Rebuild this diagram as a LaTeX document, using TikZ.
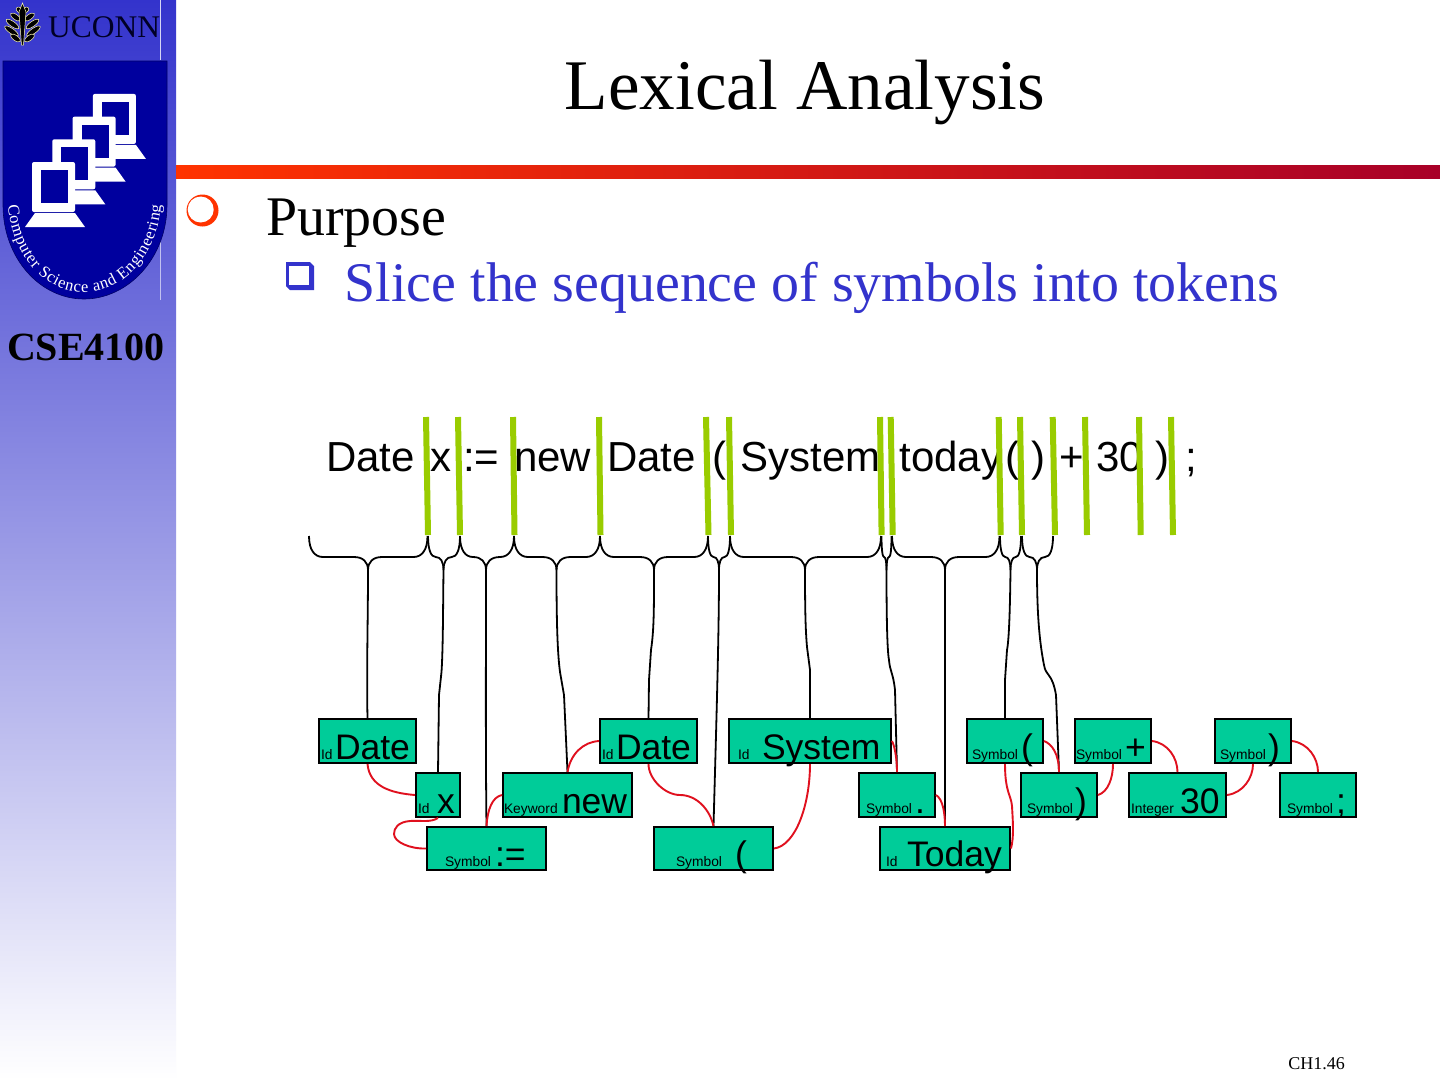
\documentclass[tikz,border=0pt]{standalone}
\usepackage{fontspec}
\setmainfont{Liberation Serif}
\setsansfont{Liberation Sans}
\usetikzlibrary{decorations.text}

\definecolor{tokengreen}{HTML}{00CC99}
\definecolor{cutgreen}{HTML}{99CC00}
\definecolor{slideblue}{HTML}{3333CC}
\definecolor{shieldblue}{HTML}{00009E}
\definecolor{linkred}{HTML}{E0101E}
\definecolor{ruleorange}{HTML}{FF3300}
\definecolor{rulecrimson}{HTML}{A80028}

% token text: offset, small label, offset to the big word, big word
\newcommand{\toktext}[4]{\hspace*{#1pt}\rlap{\fontsize{13.8}{14}\selectfont #2}\hspace*{#3pt}{\fontsize{35.5}{36}\selectfont #4}}

\begin{document}
\begin{tikzpicture}[
  x=1pt, y=-1pt,
  tokenbox/.style={rectangle, draw=black, line width=2pt, fill=tokengreen, inner sep=0pt, minimum height=#1, text height=#1-3.5pt, text depth=3.5pt, align=left, font=\sffamily},
  tokenbox/.default=44pt,
  cut/.style={line width=6pt, cutgreen},
  bracket/.style={line width=1.8pt, black},
  wire/.style={line width=1.8pt, black},
  link/.style={line width=1.9pt, linkred},
  title/.style={font=\fontsize{71.2}{72}\selectfont},
  bullettext/.style={anchor=base west, font=\fontsize{55.9}{56}\selectfont}
]
  \useasboundingbox (0,0) rectangle (1440,1080);
  \fill[white] (0,0) rectangle (1440,1080);

  % side bar and rule
  \shade[top color=slideblue, bottom color=white] (0,0) rectangle (176,1080);
  \shade[left color=ruleorange, right color=rulecrimson] (176,165) rectangle (1440,178);

  % logo
  \draw[white!80!slideblue, line width=0.8pt] (160,0) -- (160,60);
  \draw[white!70!slideblue, line width=0.8pt] (160,62) -- (160,300);
  \foreach \ly/\lr in {10/3, 17/7, 24/10, 31/11, 38/7} {
    \fill[black, draw=white!70!yellow, line width=0.5pt, rotate around={35:(22.5+\lr,\ly)}] (22.5+\lr,\ly) ellipse (\lr*0.55+2 and 2.6);
    \fill[black, draw=white!70!yellow, line width=0.5pt, rotate around={-35:(22.5-\lr,\ly)}] (22.5-\lr,\ly) ellipse (\lr*0.55+2 and 2.6);
  }
  \fill[black, draw=white!70!yellow, line width=0.5pt] (22.5,3) -- (26,12) -- (23.5,45) -- (21.5,45) -- (19,12) -- cycle;
  \node[anchor=base west, inner sep=0pt, text=black!85!blue, font=\fontsize{31.5}{32}\selectfont] (uconn) at (48,37) {UCONN};
  \fill[shieldblue, draw=black!60!blue, line width=0.6pt] (3,61) -- (167,61) -- (167,205) .. controls (167,258) and (128,299) .. (84,299) .. controls (40,299) and (3,258) .. (3,205) -- cycle;
  \foreach \i in {3,2,1,0} {
    \begin{scope}[shift={(20.3*\i,-22.7*\i)}]
      \fill[white] (25,227) -- (35,213) -- (75,213) -- (85,227) -- cycle;
      \fill[white, rounded corners=2pt] (32,162) rectangle (75,212);
      \fill[shieldblue] (41,170) rectangle (68,203);
    \end{scope}
  }
  \path[decorate, decoration={text along path, text align=fit to path, text color=white, text={|\fontsize{16.5}{17}\selectfont|Computer Science and Engineering}}]
    (8,205) .. controls (12,257) and (45,292) .. (84,292) .. controls (123,292) and (157,257) .. (161,205);
  \node[anchor=base, inner sep=0pt, font=\fontsize{40}{40}\selectfont\bfseries] (course) at (86,360) {CSE4100};

  % title and bullets
  \node[title, anchor=base, inner sep=0pt] (heading) at (805,109) {Lexical Analysis};
  \fill[ruleorange] (202.5,210.5) circle (16);
  \fill[white] (200.7,209.5) circle (13);
  \fill[slideblue] (286,262) -- (310,262) -- (314,266) -- (314,290) -- (290,290) -- (286,286) -- cycle;
  \fill[white] (289,266) rectangle (309,285);
  \node[bullettext, inner sep=0pt] (purpose) at (266,235.5) {Purpose};
  \node[bullettext, inner sep=0pt, text=slideblue] (slice) at (344.5,301) {Slice the sequence of symbols into tokens};

  % the source line
  \node[anchor=base west, inner sep=0pt, font=\sffamily\fontsize{42}{42}\selectfont] (source) at (326,471.5) {Date \kern3.7pt x \kern.3pt := \kern3.2pt new \kern4.3pt Date \kern4.7pt ( \kern2.3pt System \kern7.3pt today\kern3.3pt( \kern.3pt) \kern2.3pt+ \kern.7pt30 \kern.6pt) \kern4.3pt;};

  % cuts
  \foreach \t/\b in {426/428, 458/460, 513/514.5, 599/600.5, 706/708.5, 729/731, 880/881.6, 890.7/892.7, 998.7/1000.7, 1020/1022, 1052.7/1055, 1085/1087, 1139/1140.7, 1171/1173}
    \draw[cut] (\t,417) -- (\b,535);

  % braces under the cuts
  \foreach \l/\m/\r in {309/368/427.5, 428/443.5/460, 460/486/514, 514/556.5/600, 600/654/708, 708/719/730, 730/805/881, 881.5/886.5/891.5, 892/945/999.5, 1000/1010.5/1021, 1022/1037/1053} {
    \pgfmathsetmacro{\ra}{min(14,(\m-\l)/2)}
    \pgfmathsetmacro{\rb}{min(14,(\r-\m)/2)}
    \draw[bracket] (\l,536) .. controls (\l,550) and (\l+\ra*0.4,557) .. (\l+\ra,557) -- (\m-\ra,557) .. controls (\m-\ra*0.35,557) and (\m,562) .. (\m,570);
    \draw[bracket] (\r,536) .. controls (\r,550) and (\r-\rb*0.4,557) .. (\r-\rb,557) -- (\m+\rb,557) .. controls (\m+\rb*0.35,557) and (\m,562) .. (\m,570);
  }
  \coordinate (b1) at (368,570);
  \coordinate (b2) at (443.5,570);
  \coordinate (b3) at (486,570);
  \coordinate (b4) at (556.5,570);
  \coordinate (b5) at (654,570);
  \coordinate (b6) at (719,570);
  \coordinate (b7) at (805,570);
  \coordinate (b8) at (886.5,570);
  \coordinate (b9) at (945,570);
  \coordinate (b10) at (1010.5,570);
  \coordinate (b11) at (1037,570);

  % tokens
  \node[tokenbox, minimum width=97pt, text width=97pt] (date) at (367.5,741) {\toktext{2}{Id}{14}{Date}};
  \node[tokenbox, minimum width=44pt, text width=44pt] (x) at (438,795) {\toktext{2}{Id}{19}{x}};
  \node[tokenbox=43pt, minimum width=119pt, text width=119pt] (assign) at (486.5,848.5) {\toktext{18}{Symbol}{50}{:=}};
  \node[tokenbox, minimum width=129pt, text width=129pt] (new) at (567.5,795) {\toktext{1}{Keyword}{58}{new}};
  \node[tokenbox, minimum width=97pt, text width=97pt] (datetwo) at (648.5,741) {\toktext{2}{Id}{14}{Date}};
  \node[tokenbox=43pt, minimum width=119pt, text width=119pt] (lparen) at (713.5,848.5) {\toktext{22}{Symbol}{59}{(}};
  \node[tokenbox, minimum width=162pt, text width=162pt] (system) at (810,741) {\toktext{9}{Id}{24}{System}};
  \node[tokenbox, minimum width=76pt, text width=76pt] (dot) at (897,795) {\toktext{7}{Symbol}{49}{.}};
  \node[tokenbox=43pt, minimum width=130pt, text width=130pt] (today) at (945,848.5) {\toktext{6}{Id}{21}{Today}};
  \node[tokenbox, minimum width=76pt, text width=76pt] (open) at (1005,741) {\toktext{5}{Symbol}{49}{(}};
  \node[tokenbox, minimum width=76pt, text width=76pt] (close) at (1059,795) {\toktext{6}{Symbol}{48}{)}};
  \node[tokenbox, minimum width=76pt, text width=76pt] (plus) at (1113,741) {\toktext{1}{Symbol}{49}{+}};
  \node[tokenbox, minimum width=97pt, text width=97pt] (thirty) at (1177.5,795) {\toktext{2}{Integer}{49}{30}};
  \node[tokenbox, minimum width=76pt, text width=76pt] (rparen) at (1253,741) {\toktext{5}{Symbol}{48}{)}};
  \node[tokenbox, minimum width=76pt, text width=76pt] (semi) at (1318,795) {\toktext{7}{Symbol}{49}{;}};

  % wires from the braces to the tokens
  \draw[wire] (b1) .. controls (368,620) and (366.5,670) .. (date.north);
  \draw[wire] (b2) .. controls (443,610) and (443,650) .. (441.5,672) -- (439,695) -- (x.north);
  \draw[wire] (b3) .. controls (486,650) and (485.5,750) .. (assign.north);
  \draw[wire] (b4) .. controls (556.5,610) and (557,650) .. (560,672) -- (564,695) -- (new.north);
  \draw[wire] (b5) .. controls (654,610) and (654,630) .. (651,650) -- (649,680) -- (datetwo.north);
  \draw[wire] (b6) .. controls (719,630) and (717,700) .. (lparen.north);
  \draw[wire] (b7) .. controls (805,610) and (805.5,630) .. (807,647) -- (810,670) -- (system.north);
  \draw[wire] (b8) .. controls (886.5,610) and (887,650) .. (889,660) .. controls (890,672) and (893,672) .. (895,690) -- (dot.north);
  \draw[wire] (b9) .. controls (945,650) and (945,750) .. (today.north);
  \draw[wire] (b10) .. controls (1010,610) and (1009,640) .. (1007,650) -- (1005,680) -- (open.north);
  \draw[wire] (b11) .. controls (1037,610) and (1039,640) .. (1044,665) .. controls (1046,677) and (1052,672) .. (1056,695) -- (close.north);

  % links between tokens in reading order
  \draw[link] (date.south) .. controls +(2,22) and +(-25,-2) .. (x.west);
  \draw[link] (x.south) .. controls +(-8,5) and +(10,-1) .. (410,821) .. controls (398,822) and (394,828) .. (394,834) .. controls (394,842) and (410,849) .. (assign.west);
  \draw[link] (assign.north) .. controls +(1,-16) and +(-10,2) .. (new.west);
  \draw[link] (new.north) .. controls +(3,-18) and +(-16,1) .. (datetwo.west);
  \draw[link] (datetwo.south) .. controls +(0,15) and +(-15,0) .. (680,795) .. controls (697,795) and (710,810) .. (lparen.north);
  \draw[link] (lparen.east) .. controls +(22,-3) and +(0,40) .. (system.south);
  \draw[link] (system.east) .. controls +(3,6) and +(0,-12) .. (dot.north);
  \draw[link] (dot.east) .. controls +(7,4) and +(0,-12) .. (today.north);
  \draw[link] (today.east) .. controls +(3,-12) and +(1,18) .. (1012,806) .. controls (1011,795) and (1005,792) .. (open.south);
  \draw[link] (open.east) .. controls +(8,3) and +(0,-18) .. (close.north);
  \draw[link] (close.east) .. controls +(10,-3) and +(0,14) .. (plus.south);
  \draw[link] (plus.east) .. controls +(16,2) and +(0,-14) .. (thirty.north);
  \draw[link] (thirty.east) .. controls +(16,-2) and +(0,14) .. (rparen.south);
  \draw[link] (rparen.east) .. controls +(16,2) and +(0,-14) .. (semi.north);

  \node[anchor=base east, inner sep=0pt, font=\fontsize{18}{18}\selectfont] (pagenum) at (1345,1069) {CH1.46};
\end{tikzpicture}
\end{document}
